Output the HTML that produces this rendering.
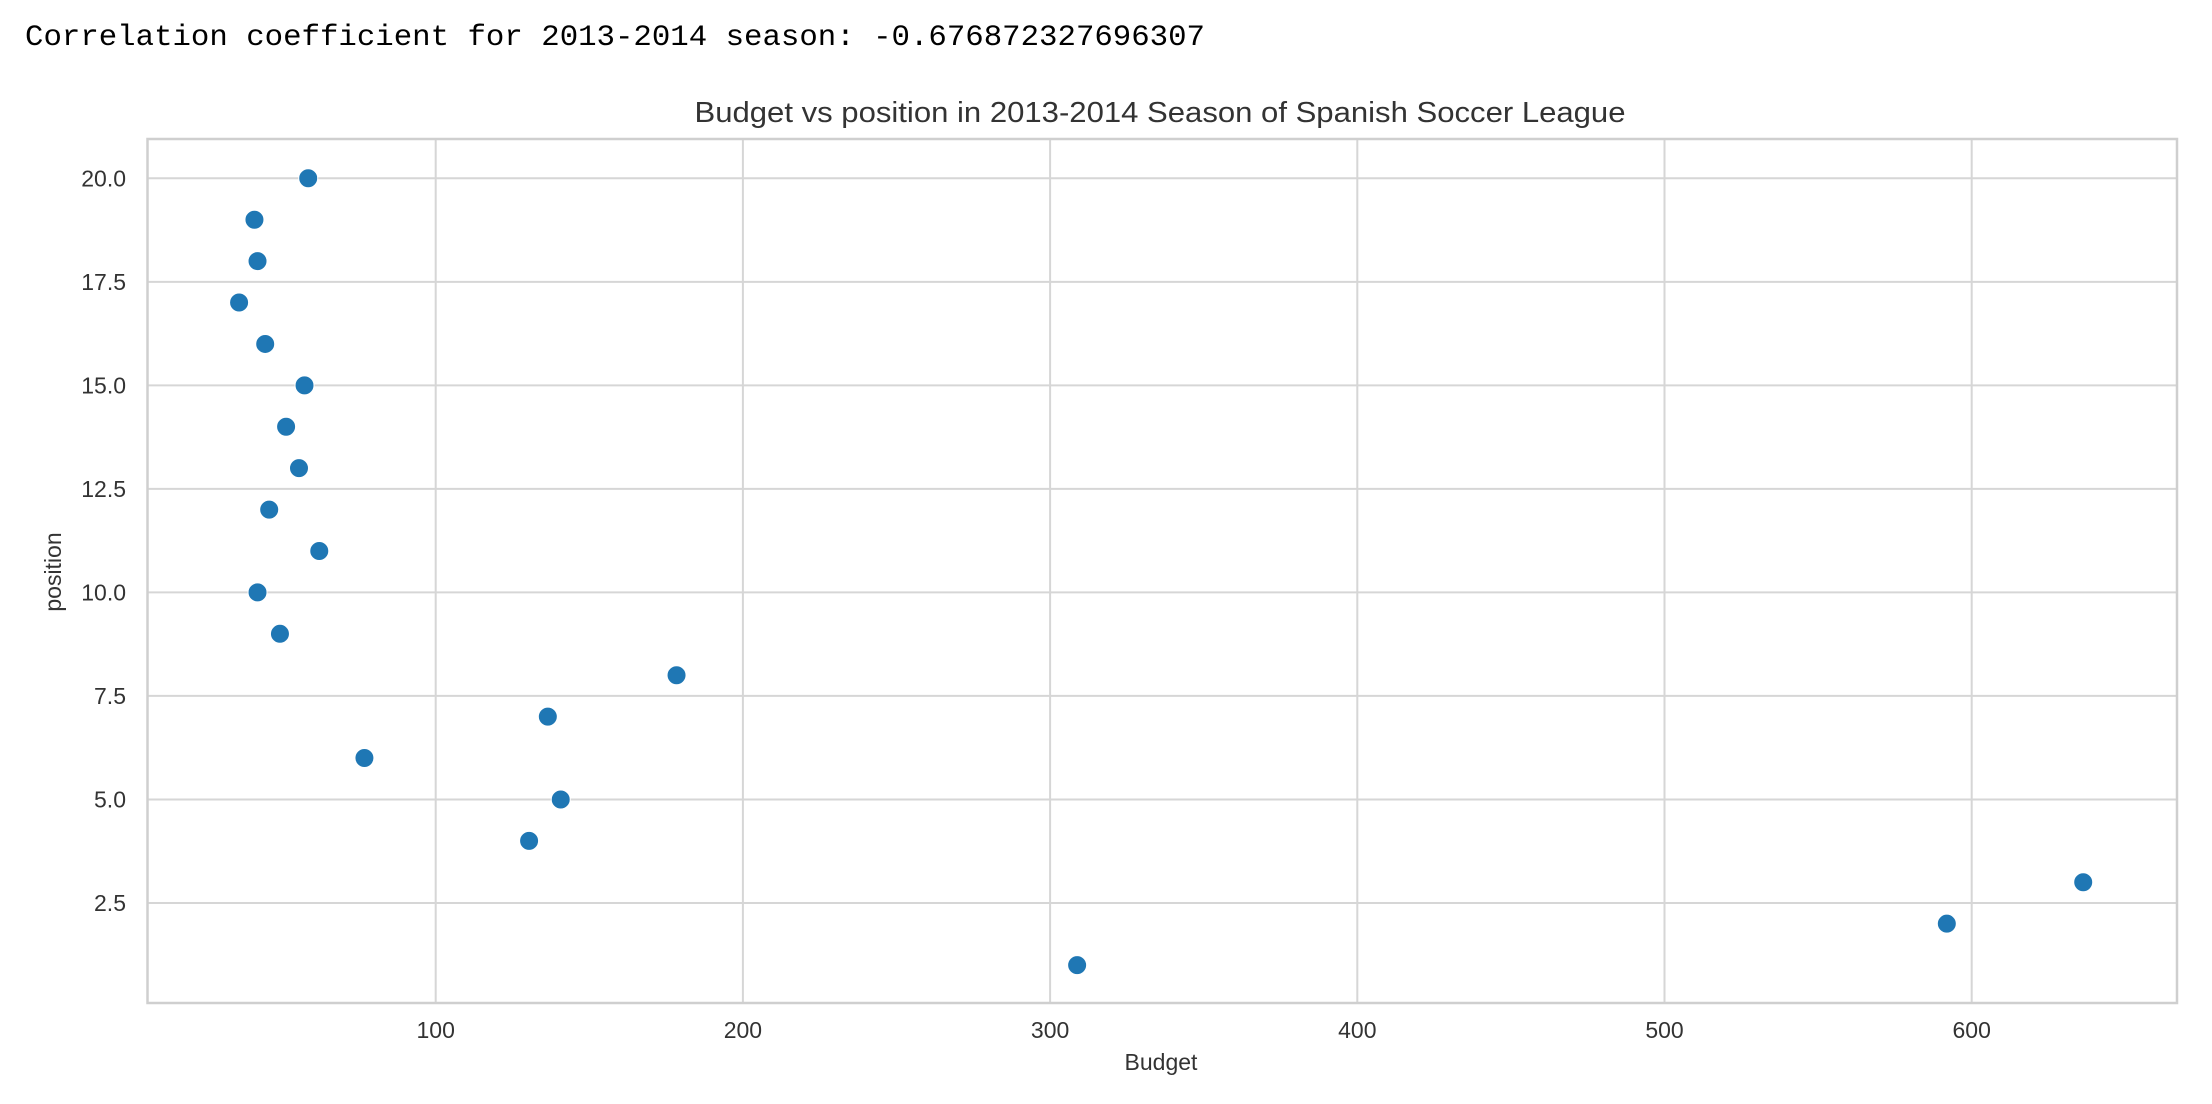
<!DOCTYPE html>
<html><head><meta charset="utf-8"><style>
html,body{margin:0;padding:0;background:#fff;}
svg{display:block;}
</style></head><body>
<svg id="chart" width="2212" height="1104" viewBox="0 0 2212 1104" xmlns="http://www.w3.org/2000/svg">
<text x="25" y="45" font-family="Liberation Mono, monospace" font-size="30" fill="#000" textLength="1180" lengthAdjust="spacingAndGlyphs">Correlation coefficient for 2013-2014 season: -0.676872327696307</text>
<text x="1160" y="122" text-anchor="middle" font-family="Liberation Sans, sans-serif" font-size="29" fill="#333" textLength="931" lengthAdjust="spacingAndGlyphs">Budget vs position in 2013-2014 Season of Spanish Soccer League</text>
<g id="grid"></g>
<g id="ticks"></g>
<g id="points"></g>
<rect x="147.5" y="139" width="2029.5" height="864" fill="none" stroke="#cfcfcf" stroke-width="2.5"/>
<text x="1161" y="1070" text-anchor="middle" font-family="Liberation Sans, sans-serif" font-size="23" fill="#333">Budget</text>
<text x="0" y="0" transform="translate(61,572) rotate(-90)" text-anchor="middle" font-family="Liberation Sans, sans-serif" font-size="23" fill="#333">position</text>
</svg>
<script>
const budgets = [308.8, 591.9, 636.3, 130.4, 140.7, 76.8, 136.5, 178.4, 49.3, 42.0, 62.1, 45.8, 55.5, 51.3, 57.3, 44.5, 36.0, 42.0, 41.0, 58.5];
const positions = [1, 2, 3, 4, 5, 6, 7, 8, 9, 10, 11, 12, 13, 14, 15, 16, 17, 18, 19, 20];
const xTicks = [100, 200, 300, 400, 500, 600];
const yTicks = [2.5, 5.0, 7.5, 10.0, 12.5, 15.0, 17.5, 20.0];

const NS = 'http://www.w3.org/2000/svg';
const X0 = 128.5, XS = 3.072;
const Y0 = 1006.5, YS = 41.41;
function xs(v){ return X0 + v * XS; }
function ys(v){ return Y0 - v * YS; }
const L = 147.5, R = 2177, T = 139, B = 1003;
const grid = document.getElementById('grid');
const ticks = document.getElementById('ticks');
const pts = document.getElementById('points');
function mk(tag, attrs){ const e = document.createElementNS(NS, tag); for (const k in attrs) e.setAttribute(k, attrs[k]); return e; }

xTicks.forEach(t => {
  const x = xs(t);
  const ln = mk('line', {x1:x, x2:x, y1:T, y2:B, stroke:'#d6d6d6', 'stroke-width':2});
  
  
  grid.appendChild(ln);
  const tx = mk('text', {x:x, y:1038, 'text-anchor':'middle', 'font-family':'Liberation Sans, sans-serif', 'font-size':23, fill:'#333'});
  tx.textContent = String(t);
  
  
  ticks.appendChild(tx);
});
yTicks.forEach(t => {
  const y = ys(t);
  const ln = mk('line', {x1:L, x2:R, y1:y, y2:y, stroke:'#d6d6d6', 'stroke-width':2});
  
  
  grid.appendChild(ln);
  const tx = mk('text', {x:126, y:y + 8, 'text-anchor':'end', 'font-family':'Liberation Sans, sans-serif', 'font-size':23, fill:'#333'});
  tx.textContent = t.toFixed(1);
  
  
  ticks.appendChild(tx);
});
budgets.forEach((b, i) => {
  const c = mk('circle', {cx:xs(b), cy:ys(positions[i]), r:9.5, fill:'#1f77b4', stroke:'#fff', 'stroke-width':1});
  
  
  pts.appendChild(c);
});
</script>
</body></html>
